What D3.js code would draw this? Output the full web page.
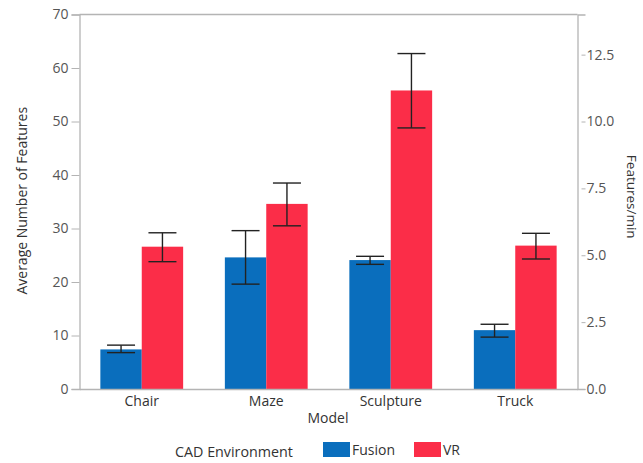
<!DOCTYPE html>
<html>
<head>
<meta charset="utf-8">
<script src="https://cdn.jsdelivr.net/npm/d3@7"></script>
<style>
  html, body { margin: 0; padding: 0; background: #fff; }
  svg { display: block; font-family: "Open Sans", "Noto Sans", sans-serif; }
</style>
</head>
<body>
<svg id="chart" width="643" height="463"></svg>
<script>
// Models and CAD environments
const models = ["Chair", "Maze", "Sculpture", "Truck"];
const environments = ["Fusion", "VR"];

// Average number of features per model
const fusionMean = [7.4, 24.6, 24.1, 11.0];
const vrMean = [26.6, 34.6, 55.8, 26.8];

// Error bar extents (low / high)
const fusionLow = [6.8, 19.6, 23.3, 9.7];
const fusionHigh = [8.2, 29.6, 24.8, 12.1];
const vrLow = [23.8, 30.5, 48.8, 24.3];
const vrHigh = [29.2, 38.5, 62.7, 29.1];

// Axis ticks
const leftTicks = [0, 10, 20, 30, 40, 50, 60, 70];
const rightTicks = [0, 2.5, 5, 7.5, 10, 12.5];

const colors = { Fusion: "#0a6ebd", VR: "#fb2d48" };
const axisColor = "#b4b4b4";
const textColor = "#555";

const svg = d3.select("#chart");
const plotLeft = 79.5, plotRight = 577.5, plotTop = 14.5, plotBottom = 389;

const x = d3.scaleBand().domain(models).range([plotLeft, plotRight]).paddingInner(0).paddingOuter(0);
const barGroupWidth = x.bandwidth() * 0.665;
const xi = d3.scaleBand().domain(environments).range([0, barGroupWidth]);
const y = d3.scaleLinear().domain([0, 70]).range([plotBottom, plotTop]);
const yr = d3.scaleLinear().domain([0, 14]).range([plotBottom, plotTop]);

const rows = [];
models.forEach((m, i) => {
  rows.push({ model: m, env: "Fusion", mean: fusionMean[i], lo: fusionLow[i], hi: fusionHigh[i] });
  rows.push({ model: m, env: "VR", mean: vrMean[i], lo: vrLow[i], hi: vrHigh[i] });
});
const barX = d => x(d.model) + (x.bandwidth() - barGroupWidth) / 2 + xi(d.env);

// Bars
svg.append("g").selectAll("rect").data(rows).join("rect")
  .attr("x", barX)
  .attr("y", d => y(d.mean))
  .attr("width", xi.bandwidth())
  .attr("height", d => y(0) - y(d.mean))
  .attr("fill", d => colors[d.env]);

// Error bars
const eb = svg.append("g").attr("stroke", "#222").attr("stroke-width", 1.4).attr("fill", "none");
const capW = 14;
rows.forEach(d => {
  const cx = barX(d) + xi.bandwidth() / 2;
  eb.append("line").attr("x1", cx).attr("x2", cx).attr("y1", y(d.lo)).attr("y2", y(d.hi));
  eb.append("line").attr("x1", cx - capW).attr("x2", cx + capW).attr("y1", y(d.hi)).attr("y2", y(d.hi));
  eb.append("line").attr("x1", cx - capW).attr("x2", cx + capW).attr("y1", y(d.lo)).attr("y2", y(d.lo));
});

// Frame: top border
svg.append("line").attr("x1", plotLeft).attr("x2", plotRight).attr("y1", plotTop).attr("y2", plotTop)
  .attr("stroke", axisColor).attr("stroke-width", 1.3);

// Left axis
const gl = svg.append("g").attr("transform", `translate(${plotLeft},0)`)
  .call(d3.axisLeft(y).tickValues(leftTicks).tickSize(8).tickPadding(3).tickFormat(d3.format("d")));
// Right axis (short ticks set off from the axis line)
const gr = svg.append("g").attr("transform", `translate(${plotRight},0)`)
  .call(d3.axisRight(yr).tickValues(rightTicks).tickSize(8).tickPadding(1).tickFormat(d3.format(".1f")));
gr.selectAll(".tick line").attr("x1", 4);
// Bottom axis
const gb = svg.append("g").attr("transform", `translate(0,${plotBottom})`)
  .call(d3.axisBottom(x).tickSize(0).tickPadding(7));

[gl, gr, gb].forEach(g => {
  g.select(".domain").attr("stroke", axisColor).attr("stroke-width", 1.3);
  g.selectAll(".tick line").attr("stroke", axisColor);
  g.selectAll("text").attr("fill", textColor).attr("font-size", 14)
    .attr("font-family", "'Open Sans', 'Noto Sans', sans-serif");
});
gb.selectAll("text").attr("fill", "#333");

// Axis titles
svg.append("text")
  .attr("transform", `translate(27,${(plotTop + plotBottom) / 2 - 1}) rotate(-90)`)
  .attr("text-anchor", "middle").attr("font-size", 14).attr("fill", "#333")
  .text("Average Number of Features");
svg.append("text")
  .attr("transform", `translate(627,${(plotTop + plotBottom) / 2 - 5}) rotate(90)`)
  .attr("text-anchor", "middle").attr("font-size", 13.5).attr("fill", "#333")
  .text("Features/min");
svg.append("text")
  .attr("x", 328).attr("y", 423)
  .attr("text-anchor", "middle").attr("font-size", 14).attr("fill", "#333")
  .text("Model");

// Legend
const lg = svg.append("g");
lg.append("text").attr("x", 175).attr("y", 457).attr("font-size", 14.3).attr("fill", "#333")
  .text("CAD Environment");
const legendX = [323, 414];
environments.forEach((e, i) => {
  lg.append("rect").attr("x", legendX[i]).attr("y", 442).attr("width", 27).attr("height", 15)
    .attr("fill", colors[e]);
  lg.append("text").attr("x", legendX[i] + 29).attr("y", 455).attr("font-size", 14).attr("fill", "#333")
    .text(e);
});
</script>
</body>
</html>
